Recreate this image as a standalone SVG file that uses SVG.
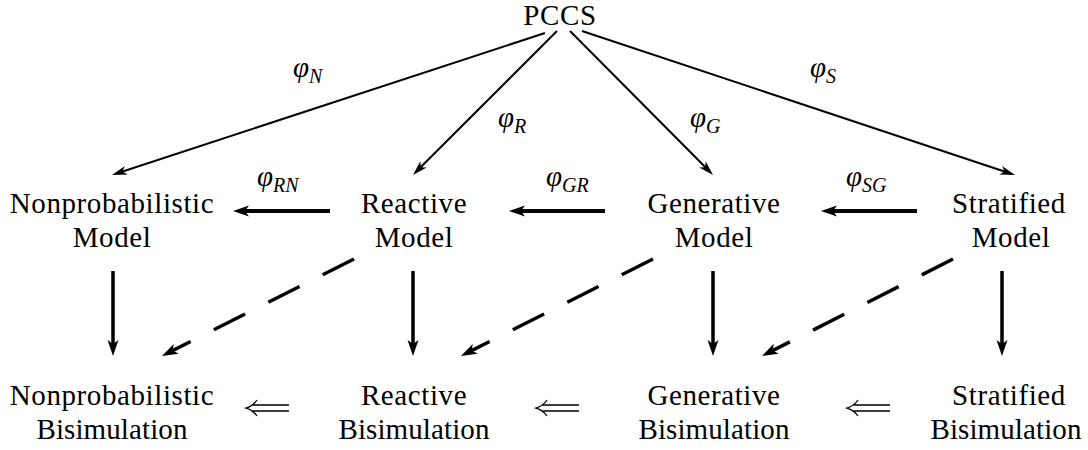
<svg xmlns="http://www.w3.org/2000/svg" width="1088" height="450" viewBox="0 0 1088 450">
<style>
text{font-family:"Liberation Serif",serif}
.t{font-size:29px;letter-spacing:0.6px;text-anchor:middle;fill:#000}
.b{letter-spacing:0.1px}
.m{font-size:29px;font-style:italic;fill:#000}
.s{font-size:20px}
.thin{stroke:#000;stroke-width:2;fill:none;marker-end:url(#ah)}
.thick{stroke:#000;stroke-width:4;fill:none;marker-end:url(#ahb)}
.vert{stroke:#000;stroke-width:3.5;fill:none;marker-end:url(#ahb)}
.dash{stroke:#000;stroke-width:3.5;fill:none;stroke-dasharray:35 26;marker-end:url(#ahb)}
.imp{stroke:#000;stroke-width:1.3;fill:none}
</style>
<defs>
<marker id="ah" markerUnits="userSpaceOnUse" markerWidth="30" markerHeight="30" refX="0" refY="0" orient="auto" overflow="visible">
<path d="M8,0 L-7,-4.5 L-3,0 L-7,4.5 Z" fill="#000"/>
</marker>
<marker id="ahb" markerUnits="userSpaceOnUse" markerWidth="30" markerHeight="30" refX="0" refY="0" orient="auto" overflow="visible">
<path d="M8,0 L-8,-5.5 L-4,0 L-8,5.5 Z" fill="#000"/>
</marker>
</defs>
<g id="connectors">
<line class="thin" x1="545" y1="33" x2="119.6" y2="172.5"/>
<line class="thin" x1="557" y1="31" x2="418.6" y2="169.3"/>
<line class="thin" x1="570" y1="31" x2="707.4" y2="169.3"/>
<line class="thin" x1="582" y1="31" x2="1007.4" y2="172.5"/>
<line class="thick" x1="330" y1="211" x2="241" y2="211"/>
<line class="thick" x1="605" y1="211" x2="517" y2="211"/>
<line class="thick" x1="917" y1="211" x2="829" y2="211"/>
<line class="vert" x1="113" y1="271" x2="113" y2="348"/>
<line class="vert" x1="413" y1="271" x2="413" y2="348"/>
<line class="vert" x1="713" y1="271" x2="713" y2="348"/>
<line class="vert" x1="1002" y1="271" x2="1002" y2="348"/>
<line class="dash" x1="354" y1="259" x2="169.1" y2="352.4"/>
<line class="dash" x1="653" y1="259" x2="468.1" y2="352.4"/>
<line class="dash" x1="953" y1="259" x2="769.1" y2="352.4"/>
<path class="imp" d="M289,405 H252 M289,411 H252 M257,400 Q253,406 246,408 Q253,410 257,416"/>
<path class="imp" d="M579,405 H542 M579,411 H542 M547,400 Q543,406 536,408 Q543,410 547,416"/>
<path class="imp" d="M890,405 H853 M890,411 H853 M858,400 Q854,406 847,408 Q854,410 858,416"/>
<text class="m" x="293" y="77" font-family="Liberation Serif">φ<tspan class="s" dy="6">N</tspan></text>
<text class="m" x="498" y="127" font-family="Liberation Serif">φ<tspan class="s" dy="6">R</tspan></text>
<text class="m" x="690" y="127" font-family="Liberation Serif">φ<tspan class="s" dy="6">G</tspan></text>
<text class="m" x="810" y="77" font-family="Liberation Serif">φ<tspan class="s" dy="6">S</tspan></text>
<text class="m" x="257" y="186" font-family="Liberation Serif">φ<tspan class="s" dy="6">RN</tspan></text>
<text class="m" x="546" y="186" font-family="Liberation Serif">φ<tspan class="s" dy="6">GR</tspan></text>
<text class="m" x="846" y="186" font-family="Liberation Serif">φ<tspan class="s" dy="6">SG</tspan></text>
</g>
<g id="pccs"><text class="t" x="560" y="25" font-family="Liberation Serif">PCCS</text></g>
<g id="nonprob-model"><text class="t" x="112" y="213">Nonprobabilistic</text><text class="t" x="112" y="247">Model</text></g>
<g id="reactive-model"><text class="t" x="414" y="213">Reactive</text><text class="t" x="414" y="247">Model</text></g>
<g id="generative-model"><text class="t" x="714" y="213">Generative</text><text class="t" x="714" y="247">Model</text></g>
<g id="stratified-model"><text class="t" x="1009" y="213">Stratified</text><text class="t" x="1011" y="247">Model</text></g>
<g id="nonprob-bisim"><text class="t" x="112" y="405">Nonprobabilistic</text><text class="t b" x="112" y="439">Bisimulation</text></g>
<g id="reactive-bisim"><text class="t" x="414" y="405">Reactive</text><text class="t b" x="414" y="439">Bisimulation</text></g>
<g id="generative-bisim"><text class="t" x="714" y="405">Generative</text><text class="t b" x="714" y="439">Bisimulation</text></g>
<g id="stratified-bisim"><text class="t" x="1009" y="405">Stratified</text><text class="t b" x="1006" y="439">Bisimulation</text></g>
</svg>
